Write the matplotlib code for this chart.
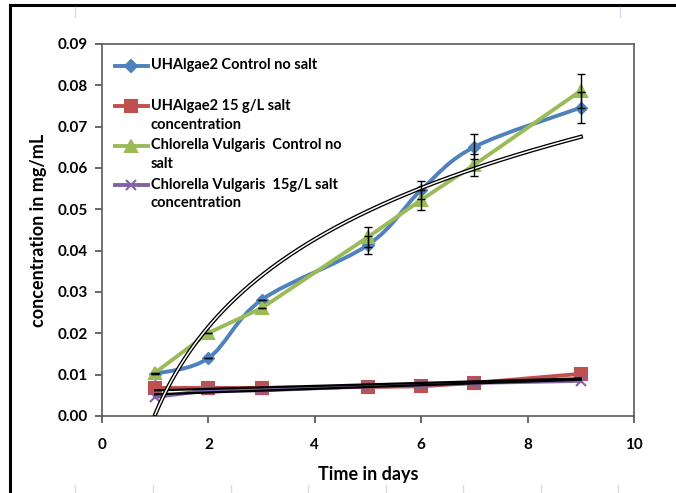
import numpy as np
import matplotlib.pyplot as plt
from matplotlib.path import Path
from matplotlib.patches import PathPatch
from matplotlib.lines import Line2D

plt.rcParams["font.family"] = ["Lato", "DejaVu Sans"]
plt.rcParams["font.weight"] = "bold"

# Messwerte (Tage / Konzentration in mg/mL)
days = [1, 2, 3, 5, 6, 7, 9]
uh_control = [0.0102, 0.0140, 0.0281, 0.0414, 0.0547, 0.0651, 0.0746]
uh_salt = [0.0068, 0.0068, 0.0068, 0.0070, 0.0072, 0.0080, 0.0102]
cv_control = [0.0105, 0.0201, 0.0261, 0.0433, 0.0523, 0.0608, 0.0787]
cv_salt = [0.0046, 0.0062, 0.0062, 0.0072, 0.0075, 0.0080, 0.0085]
uh_control_err = [0, 0, 0, 0.0022, 0.0022, 0.0030, 0.0037]
cv_control_err = [0, 0, 0, 0.0025, 0.0024, 0.0027, 0.0041]

labels = [
    "UHAlgae2 Control no salt",
    "UHAlgae2 15 g/L salt\nconcentration",
    "Chlorella Vulgaris  Control no\nsalt",
    "Chlorella Vulgaris  15g/L salt\nconcentration",
]
colors = ["#4F81BD", "#C0504D", "#9BBB59", "#8064A2"]
markers = ["D", "s", "^", "x"]
msizes = [6.5, 8.5, 8.5, 7]

x_ticks = [0, 2, 4, 6, 8, 10]
y_ticks = [0.00, 0.01, 0.02, 0.03, 0.04, 0.05, 0.06, 0.07, 0.08, 0.09]


def smooth_path(xs, ys):
    """Geglättete Linie wie in Excel (Bezier-Kurven durch die Punkte)."""
    pts = np.column_stack([xs, ys]).astype(float)
    verts = [pts[0]]
    codes = [Path.MOVETO]
    n = len(pts)
    for i in range(n - 1):
        p0 = pts[i - 1] if i > 0 else pts[i]
        p1 = pts[i]
        p2 = pts[i + 1]
        p3 = pts[i + 2] if i + 2 < n else pts[i + 1]
        c1 = p1 + (p2 - p0) / 6
        c2 = p2 - (p3 - p1) / 6
        verts += [c1, c2, p2]
        codes += [Path.CURVE4] * 3
    return Path(verts, codes)


fig = plt.figure(figsize=(6.76, 4.93), dpi=100)
ax = fig.add_axes([0.1509, 0.1562, 0.787, 0.7546])

series = [uh_control, uh_salt, cv_control, cv_salt]

# UHAlgae2 Kontrolle: geglättete Linie
ax.add_patch(
    PathPatch(smooth_path(days, uh_control), facecolor="none",
              edgecolor=colors[0], lw=2.8, zorder=2, capstyle="round")
)
ax.plot(days, uh_control, linestyle="none", marker=markers[0],
        ms=msizes[0], color=colors[0], zorder=3)

for k in [1, 2, 3]:
    ax.plot(days, series[k], color=colors[k], lw=2.8, marker=markers[k],
            ms=msizes[k], mew=1.5, zorder=2 + (k == 2))

# Trendlinien
xd = np.array(days, dtype=float)
xx = np.linspace(min(days), max(days), 200)
a, b = np.polyfit(np.log(xd), uh_control, 1)
ax.plot(xx, a * np.log(xx) + b, color="black", lw=3.0, zorder=5)
ax.plot(xx, a * np.log(xx) + b, color="white", lw=1.1, zorder=6)
for s in [uh_salt, cv_salt]:
    m, c = np.polyfit(xd, s, 1)
    ax.plot(xd, m * xd + c, color="black", lw=1.6, zorder=5)

# Fehlerbalken
for s, e in [(uh_control, uh_control_err), (cv_control, cv_control_err)]:
    ax.errorbar(days, s, yerr=e, fmt="none", ecolor="black", elinewidth=1,
                capsize=3, capthick=1, zorder=7)

ax.set_xlim(0, 10)
ax.set_ylim(0, 0.09)
ax.set_xticks(x_ticks)
ax.set_yticks(y_ticks)
ax.set_yticklabels([f"{v:.2f}" for v in y_ticks])
ax.tick_params(direction="out", length=5, width=1.1, color="#404040",
               labelsize=11, pad=5)
ax.tick_params(axis="x", pad=11)
for sp in ax.spines.values():
    sp.set_color("#5A5A5A")
    sp.set_linewidth(1.2)

ax.set_xlabel("Time in days", fontsize=13, fontweight="bold", labelpad=10)
ax.set_ylabel("concentration in mg/mL", fontsize=13, fontweight="bold",
              labelpad=8)

# Legende (manuell, Symbol auf Höhe der ersten Zeile)
leg_y = [0.941, 0.833, 0.726, 0.621]
for k in range(4):
    ax.add_line(Line2D([0.024, 0.086], [leg_y[k], leg_y[k]],
                       transform=ax.transAxes, color=colors[k], lw=2.8,
                       clip_on=False))
    ax.add_line(Line2D([0.055], [leg_y[k]], transform=ax.transAxes,
                       color=colors[k], marker=markers[k], ms=msizes[k],
                       mew=1.5, clip_on=False))
    ax.text(0.092, leg_y[k] + 0.020, labels[k], transform=ax.transAxes,
            fontsize=10.5, fontweight="bold", va="top", ha="left",
            linespacing=1.45)

# Rahmen der Seite
fig.add_artist(Line2D([10 / 676, 1], [1 - 5 / 493] * 2, color="black", lw=2.2))
fig.add_artist(Line2D([10 / 676] * 2, [0, 1 - 5 / 493], color="black", lw=2.2))
for px in [75, 620]:
    fig.add_artist(Line2D([px / 676] * 2, [1 - 7 / 493, 1 - 17 / 493],
                          color="#D5DCEA", lw=1))
for px in [75, 153, 231, 308, 386, 463, 541, 618]:
    fig.add_artist(Line2D([px / 676] * 2, [0, 8 / 493], color="#D5DCEA", lw=1))

fig.savefig("out.png", dpi=100)
